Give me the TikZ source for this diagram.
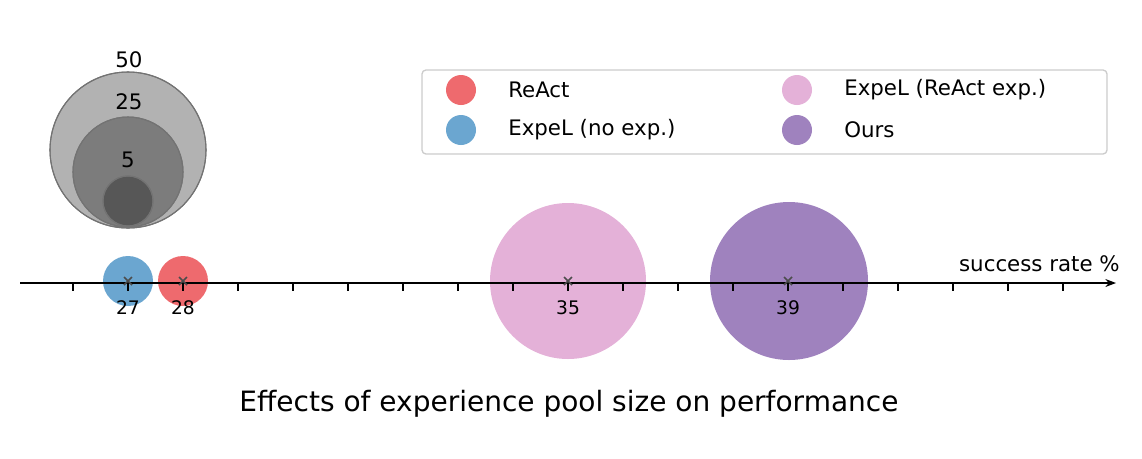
\documentclass[tikz,border=0pt]{standalone}
\usepackage{fontspec}
\setmainfont{DejaVu Sans}
\usetikzlibrary{arrows.meta}
\definecolor{cred}{HTML}{EE6A6E}
\definecolor{cblue}{HTML}{6BA6D0}
\definecolor{cpink}{HTML}{E4B1D8}
\definecolor{cpurp}{HTML}{9F82BE}
\begin{document}
\begin{tikzpicture}[x=0.75pt,y=-0.75pt,
  lab/.style={font=\fontsize{14}{16}\selectfont,inner sep=0pt},
  leg/.style={font=\fontsize{16}{19}\selectfont,inner sep=0pt,anchor=west},
  mk/.style={draw=black!70,line width=1.2pt},
  gray/.style={draw=black!55,line width=0.8pt,fill=black,fill opacity=0.3}]
\useasboundingbox (0,0) rectangle (1142,458);
% size legend
\fill[gray] (128,150) circle[radius=78];
\fill[gray] (128,172) circle[radius=55];
\fill[gray] (128,201) circle[radius=25];
\draw[black!55,line width=0.8pt] (128,150) circle[radius=78] (128,172) circle[radius=55] (128,201) circle[radius=25];
\node[lab,font=\fontsize{16}{19}\selectfont] (l50) at (129,60) {50};
\node[lab,font=\fontsize{16}{19}\selectfont] (l25) at (129,102) {25};
\node[lab,font=\fontsize{16}{19}\selectfont] (l5) at (128,160) {5};
% bubbles
\fill[cblue] (128,281) circle[radius=25];
\fill[cred] (183,281) circle[radius=25];
\fill[cpink] (568,281) circle[radius=78];
\fill[cpurp] (789,281) circle[radius=79];
% axis
\coordinate (a0) at (20,283);
\coordinate (a1) at (1116,283);
\draw[-{Stealth[length=8pt,width=6pt]},line width=0.9pt] (a0) -- (a1);
\foreach \i in {0,...,18}{\draw[line width=0.8pt] ({73+55*\i},283) -- ({73+55*\i},291);}
\foreach \x/\v in {128/27,183/28,568/35,788/39}{
  \draw[mk] (\x-4,277) -- (\x+4,285) (\x-4,285) -- (\x+4,277);
  \node[lab] (t\v) at (\x,308) {\v};}
\node[leg,anchor=east] (sr) at (1120,264) {success rate \%};
% legend
\draw[black!20,line width=1pt,rounded corners=3pt,fill=white] (422,70) rectangle (1107,154);
\fill[cred] (461,90) circle[radius=15];
\fill[cblue] (461,130) circle[radius=15];
\fill[cpink] (797,90) circle[radius=15];
\fill[cpurp] (797,130) circle[radius=15];
\node[leg] (e1) at (508,90) {ReAct};
\node[leg] (e2) at (508,130) {ExpeL (no exp.)};
\node[leg] (e3) at (844,90) {ExpeL (ReAct exp.)};
\node[leg] (e4) at (844,130) {Ours};
\node[inner sep=0pt,font=\fontsize{21}{25}\selectfont] (title) at (569,404) {Effects of experience pool size on performance};
\end{tikzpicture}
\end{document}
